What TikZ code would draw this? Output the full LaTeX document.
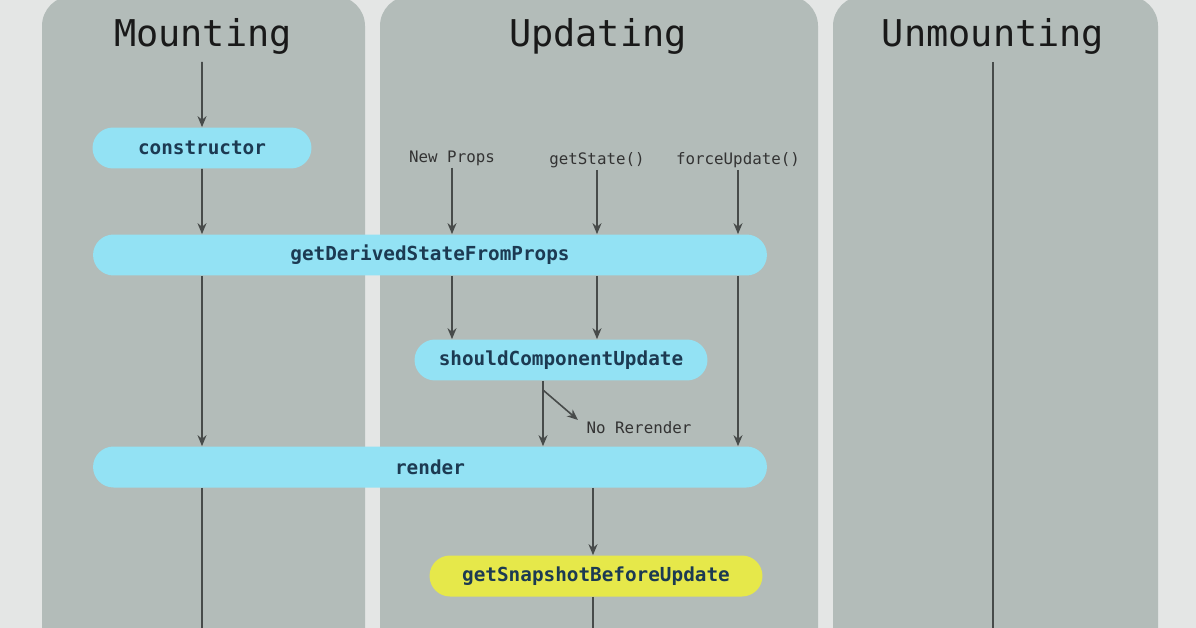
\documentclass[tikz,border=0pt]{standalone}
\usepackage{fontspec}
\setmonofont{DejaVu Sans Mono}
\usetikzlibrary{arrows.meta,shapes.misc}
\definecolor{pagebg}{HTML}{E4E6E5}
\definecolor{panelbg}{HTML}{B3BCB9}
\definecolor{boxcyan}{HTML}{93E2F4}
\definecolor{boxyellow}{HTML}{E6E84A}
\definecolor{inkblue}{HTML}{1C3A52}
\definecolor{linegray}{HTML}{474B4A}
\tikzset{
  panel/.style={fill=panelbg, rounded corners=0.6cm},
  title/.style={font=\ttfamily\fontsize{21}{24}\selectfont, text=black!90},
  hook/.style={rounded rectangle, fill=boxcyan, text=inkblue, font=\ttfamily\bfseries\fontsize{11}{13}\selectfont, minimum height=0.82cm, inner sep=0pt},
  trigger/.style={font=\ttfamily\fontsize{9}{11}\selectfont, text=black!80, inner sep=1pt},
  flow/.style={draw=linegray, line width=0.9pt, -{Stealth[length=2.2mm,width=1.8mm]}},
  plain/.style={draw=linegray, line width=0.9pt}
}
\begin{document}
\begin{tikzpicture}[x=0.02cm, y=-0.02cm]
  \fill[pagebg] (0,0) rectangle (1196,628);
  \useasboundingbox (0,0) rectangle (1196,628);
  % panels
  \fill[panel] (42,-4) rectangle (365,660);
  \fill[panel] (380,-4) rectangle (818,660);
  \fill[panel] (833,-4) rectangle (1158,660);
  \node[title] (tmount) at (203,36) {Mounting};
  \node[title] (tupdate) at (598,36) {Updating};
  \node[title] (tunmount) at (993,36) {Unmounting};
  % hooks
  \node[hook, minimum width=4.38cm] (ctor) at (202,148) {constructor};
  \node[hook, minimum width=13.48cm] (gdsfp) at (430,255) {getDerivedStateFromProps};
  \node[hook, minimum width=5.86cm] (scu) at (561,360) {shouldComponentUpdate};
  \node[hook, minimum width=13.48cm] (render) at (430,467) {render};
  \node[hook, fill=boxyellow, minimum width=6.66cm] (gsbu) at (596,576) {getSnapshotBeforeUpdate};
  % triggers
  \node[trigger] (props) at (452,158) {New Props};
  \node[trigger] (state) at (597,160) {getState()};
  \node[trigger] (force) at (738,160) {forceUpdate()};
  \node[trigger] (norender) at (639,428) {No Rerender};
  % free ends
  \coordinate (mtop) at (202,62);
  \coordinate (mbot) at (202,640);
  \coordinate (utop) at (993,62);
  \coordinate (ubot) at (993,640);
  \coordinate (sbot) at (593,640);
  \coordinate (skip) at (543,390);
  % mounting column
  \draw[flow] (mtop) -- (ctor);
  \draw[flow] (ctor) -- (gdsfp.north -| ctor);
  \draw[flow] (gdsfp.south -| ctor) -- (render.north -| ctor);
  \draw[plain] (render.south -| ctor) -- (mbot);
  % updating column
  \foreach \src in {props, state, force}
    \draw[flow] (\src) -- (gdsfp.north -| \src);
  \foreach \src in {props, state}
    \draw[flow] (gdsfp.south -| \src) -- (scu.north -| \src);
  \draw[flow] (gdsfp.south -| force) -- (render.north -| force);
  \draw[plain] (scu.south -| skip) -- (skip);
  \draw[flow] (skip) -- (render.north -| skip);
  \draw[flow] (skip) -- ([xshift=0.7cm,yshift=-0.6cm]skip);
  \draw[flow] (render.south -| sbot) -- (gsbu.north -| sbot);
  \draw[plain] (gsbu.south -| sbot) -- (sbot);
  % unmounting column
  \draw[plain] (utop) -- (ubot);
\end{tikzpicture}
\end{document}
